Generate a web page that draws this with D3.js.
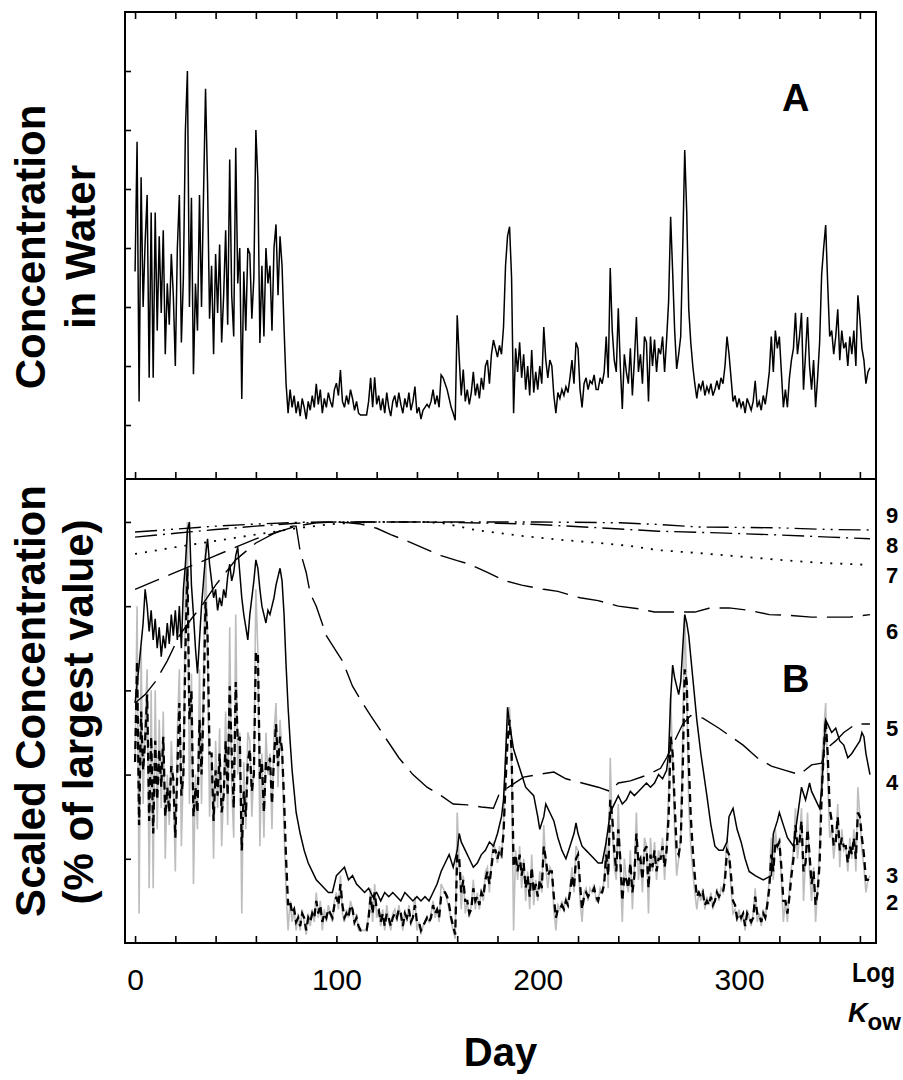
<!DOCTYPE html>
<html>
<head>
<meta charset="utf-8">
<script src="https://cdn.jsdelivr.net/npm/d3@7"></script>
<style>
  body { margin: 0; background: #fff; }
  text { font-family: "Liberation Sans", Arial, sans-serif; }
</style>
</head>
<body>
<div id="chart"></div>
<script>
// Panel A: water concentration, one value per day (arbitrary units, tick spacing = 1)
const water = [
  2.6, 4.8, 0.4, 4.2, 2.0, 3.1, 3.9, 0.8, 3.6, 0.8,
  3.6, 1.6, 3.2, 1.9, 3.3, 1.2, 2.4, 1.7, 2.9, 2.2,
  1.0, 3.0, 3.9, 1.4, 2.5, 5.0, 6.0, 2.0, 3.85, 0.86,
  2.4, 1.6, 3.9, 2.0, 3.9, 5.7, 4.1, 1.8, 2.7, 1.2,
  2.9, 1.9, 3.06, 1.4, 2.2, 3.3, 1.7, 4.5, 2.2, 1.5,
  4.7, 2.4, 3.0, 0.44, 2.6, 1.6, 3.0, 2.9, 1.8, 2.5,
  5.0, 4.15, 1.39, 2.7, 1.5, 3.0, 2.4, 2.7, 1.6, 3.0,
  3.4, 2.2, 3.2, 2.7, 1.64, 0.7, 0.2, 0.6, 0.3, 0.5,
  0.2, 0.4, 0.15, 0.45, 0.3, 0.1, 0.4, 0.25, 0.5, 0.3,
  0.7, 0.35, 0.6, 0.2, 0.45, 0.3, 0.55, 0.4, 0.3, 0.6,
  0.71, 0.5, 0.93, 0.4, 0.3, 0.5, 0.35, 0.6, 0.45, 0.25,
  0.4, 0.2, 0.17, 0.17, 0.17, 0.17, 0.4, 0.8, 0.3, 0.81,
  0.35, 0.5, 0.25, 0.45, 0.2, 0.55, 0.3, 0.15, 0.4, 0.5,
  0.3, 0.55, 0.35, 0.2, 0.45, 0.3, 0.55, 0.25, 0.4, 0.65,
  0.2, 0.3, 0.1, 0.25, 0.3, 0.35, 0.3, 0.4, 0.6, 0.35,
  0.5, 0.3, 0.85, 0.8, 0.7, 0.6, 0.45, 0.3, 0.2, 0.08,
  1.86, 1.13, 0.5, 0.94, 0.4, 0.6, 0.35, 0.55, 0.9, 0.5,
  0.7, 0.45, 0.8, 0.6, 1.0, 1.1, 0.7, 1.2, 1.44, 1.3,
  1.15, 1.35, 1.2, 1.66, 2.7, 3.2, 3.36, 2.5, 0.2, 1.3,
  0.9, 1.4, 0.8, 1.2, 0.6, 1.0, 0.5, 1.27, 0.55, 0.9,
  0.6, 1.0, 0.7, 1.66, 1.1, 0.8, 1.1, 1.0, 0.5, 0.2,
  0.55, 0.45, 0.6, 0.5, 0.65, 0.55, 0.8, 1.1, 0.7, 1.4,
  1.3, 0.6, 0.3, 0.7, 0.8, 0.6, 0.75, 0.7, 0.85, 0.6,
  0.6, 0.8, 0.7, 0.9, 1.5, 0.8, 2.66, 1.6, 1.1, 0.9,
  1.98, 1.0, 0.27, 1.2, 0.9, 0.7, 1.3, 0.5, 1.1, 1.83,
  0.9, 1.2, 0.7, 1.5, 1.4, 0.4, 1.5, 1.0, 1.45, 0.9,
  1.3, 1.2, 1.5, 0.9, 1.45, 2.1, 3.53, 2.6, 1.6, 0.95,
  1.2, 1.5, 3.0, 4.66, 3.6, 1.96, 1.4, 1.0, 0.7, 0.45,
  0.7, 0.6, 0.75, 0.5, 0.65, 0.55, 0.7, 0.5, 0.6, 0.75,
  0.6, 0.8, 0.7, 1.0, 1.5, 1.2, 0.8, 0.4, 0.5, 0.3,
  0.45, 0.3, 0.4, 0.2, 0.45, 0.35, 0.25, 0.4, 0.75, 0.3,
  0.4, 0.25, 0.5, 0.35, 0.6, 0.9, 1.5, 0.9, 1.6, 1.3,
  1.5, 0.9, 0.3, 0.6, 0.3, 0.8, 1.1, 1.3, 1.9, 1.2,
  1.5, 1.9, 0.6, 1.2, 1.83, 1.0, 0.6, 1.1, 0.3, 0.8,
  1.4, 2.55, 3.0, 3.39, 2.4, 1.5, 1.6, 1.2, 1.5, 1.96,
  1.1, 1.6, 1.3, 1.4, 1.0, 1.5, 1.2, 1.6, 1.0, 2.2,
  1.8, 1.3, 1.1, 0.7, 0.9, 0.97
];

// Panel B: scaled concentration (% of largest value) per log Kow
const kow2 = [
  43,80,7,70,33,52,65,13,60,13, 60,27,53,32,55,20,40,28,48,37,
  17,50,65,23,42,84,100,33,64,14, 40,27,65,33,65,95,68,30,45,20,
  48,32,51,23,37,55,28,75,37,25, 78,40,50,7,43,27,50,48,30,42,
  84,69,23,45,25,50,40,45,27,50, 57,37,53,45,27,12,3,10,5,8,
  3,7,3,8,5,2,7,4,8,5, 12,6,10,3,8,5,9,7,5,10,
  12,8,16,7,5,8,6,10,8,4, 7,3,3,3,3,3,7,13,5,14,
  6,8,4,8,3,9,5,3,7,8, 5,9,6,3,8,5,9,4,7,11,
  3,5,2,4,5,6,5,7,10,6, 8,5,14,13,12,10,8,5,3,1,
  31,19,8,16,7,10,6,9,15,8, 12,8,13,10,17,18,12,20,24,22,
  19,23,20,28,45,53,56,42,3,22, 15,23,13,20,10,17,8,21,9,15,
  10,17,12,28,18,13,18,17,8,3, 9,8,10,8,11,9,13,18,12,23,
  22,10,5,12,13,10,13,12,14,10, 10,13,12,15,25,13,44,27,18,15,
  33,17,5,20,15,12,22,8,18,31, 15,20,12,25,23,7,25,17,24,15,
  22,20,25,15,24,35,59,43,27,16, 20,25,50,78,60,33,23,17,12,8,
  12,10,13,8,11,9,12,8,10,13, 10,13,12,17,25,20,13,7,8,5,
  8,5,7,3,8,6,4,7,13,5, 7,4,8,6,10,15,25,15,27,22,
  25,15,5,10,5,13,18,22,32,20, 25,32,10,20,31,17,10,18,5,13,
  23,43,50,57,40,25,27,20,25,33, 18,27,22,23,17,25,20,27,17,37,
  30,22,18,12,15,16
];

const kow3 = [
  43,67,28,55,41,48,59,29,49,26, 48,34,46,37,49,30,37,31,42,39,
  25,41,57,35,40,69,89,53,60,30, 37,31,53,40,56,81,73,45,45,29,
  41,35,45,31,35,48,35,61,45,32, 62,48,49,22,36,30,43,46,36,40,
  69,69,39,43,31,43,41,44,33,44, 52,42,49,46,34,20,9,10,7,8,
  5,6,4,7,6,3,6,5,7,6, 10,7,9,5,7,6,8,7,6,9,
  11,9,14,9,6,7,6,9,8,5, 6,4,3,3,3,3,6,11,7,12,
  8,8,5,7,4,7,6,4,6,7, 6,8,7,4,7,6,8,5,6,9,
  5,5,3,4,5,6,5,6,9,7, 8,6,11,12,12,11,9,6,4,2,
  21,20,12,15,10,10,7,8,13,10, 11,9,12,11,15,17,14,18,22,22,
  20,22,21,26,38,48,53,46,18,21, 17,21,16,19,13,16,11,18,12,14,
  11,15,13,23,20,16,17,17,11,6, 8,8,9,8,10,9,12,16,13,20,
  21,14,8,11,12,11,12,12,13,11, 10,12,12,14,21,16,34,30,22,17,
  27,20,10,16,15,13,19,12,16,26, 19,20,15,22,23,13,21,18,22,17,
  20,20,23,18,22,30,49,45,33,22, 21,24,41,65,62,43,30,22,16,11,
  12,11,12,9,10,9,11,9,10,12, 11,12,12,15,22,21,16,10,9,6,
  7,6,7,4,7,6,5,6,11,7, 7,5,7,6,9,13,21,17,24,23,
  24,18,10,10,7,11,16,20,28,23, 24,29,17,19,27,21,14,17,9,12,
  19,35,45,53,45,32,29,23,24,30, 22,25,23,23,19,23,21,25,20,31,
  30,25,21,15,15,16
];

const kow4Day = [0,2,4,5,6,7,8,9,10,11,12,13,14,15,16,17,18,19,20,21,22,23,24,25,26,27,28,29,30,31,32,33,34,35,36,37,38,39,40,41,42,43,44,45,46,47,48,49,50,51,52,53,54,55,56,57,58,59,60,61,62,63,64,65,66,67,68,69,70,71,72,73,74,75,76,77,78,79,80,82,84,86,88,90,92,94,96,98,100,102,104,106,108,110,112,114,116,118,120,122,124,126,128,130,132,134,136,138,140,142,144,146,148,150,152,154,156,158,160,161,162,164,166,168,170,172,174,176,178,180,182,183,184,185,186,188,190,192,194,196,198,200,201,203,204,206,208,210,212,214,216,218,219,220,222,224,226,228,230,232,234,236,238,240,242,244,246,248,250,252,254,256,258,260,262,264,265,266,267,268,270,271,272,273,274,275,277,279,281,284,286,288,290,292,294,295,297,299,301,303,305,308,312,316,317,319,320,322,324,327,329,331,333,335,336,338,340,341,342,343,344,346,348,350,352,354,356,358,360,361,362,363,365];
const kow4 = [57,66,76,84,80,74,79,72,77,70,75,68,73,70,76,71,78,73,79,72,80,70,84,90,98,100,85,78,70,64,72,80,86,92,96,90,86,82,84,79,82,80,84,82,87,90,86,88,92,94,88,82,78,75,72,78,82,86,91,89,84,80,78,76,79,78,80,82,85,87,89,86,78,66,56,48,41,36,31,26,22,19,17,15,14,13,12,12,16,17,18,15,16,14,13,12,13,11,12,10,12,11,12,11,10,12,11,10,11,10,11,10,12,14,17,19,21,18,22,26,24,22,20,18,19,21,22,24,23,26,30,34,44,56,52,46,43,40,37,36,35,30,27,30,33,31,29,25,22,20,23,26,28.5,26,23,22,21,20,19,19,24,31,33,35,33,34,36,35,36,37,38,37,38,40,39,41,45,58,66,63,59,62,70,78,76,73,63,53,45,35,28,23,22,22,24,30,32,27,24,20,17,16,15,16,26,29,31,28,25,23,30,37,34,38,36,34,32,36,45,53,52,50,51,48,47,44,45,46.5,48,50,49,45,40];

const kow5Day = [0,5,10,16,22,28,33,40,50,60,70,78,80,82,85,87,90,95,99,103,108,113,117,124,131,138,145,152,158,165,172,178,181,187,193,200,208,214,222,230,236,240,246,255,261,264,268,272,276,282,290,296,302,309,316,323,330,336,341,343,348,352,358,365];
const kow5 = [57,59,62,67,73,77,80,85,91,95,97.5,99,99,93,88,83,80,73,70,67,61,57,54,49,44,40,37,35,33,32.8,32.3,32,35.6,37.5,39.4,40,40.6,39,38,37,36,38,38.5,40,41.5,44,48,52,54,53.4,51,49,47,44,42,41,40,42.3,42.7,46,48,50,52,52];

const kow6Day = [0,10,20,30,40,50,60,70,80,90,100,106,112,120,127,135,147,152,160,166,175,184,192,203,210,221,230,240,250,258,270,278,285,295,305,315,325,336,345,355,365];
const kow6 = [84,86,88,90,92,94,96,97.5,99,99.8,100,99.8,99.5,98.5,97,95.5,93,92,90.8,90,88,86,85,84,83.5,82,81.3,80,79.4,78.6,78.6,78.6,79.5,79.6,79,78,77.8,77.4,77.4,77.4,78];

const kow7Day = [0,20,40,60,80,100,120,140,152,170,190,210,231,246,260,280,300,320,340,365];
const kow7 = [92.4,94,95.5,97,98.5,99.6,100,100,99.8,98,96.8,95.8,95,94.3,93.3,92.6,91.8,91,90.3,89.8];

const kow8Day = [0,20,40,60,80,100,140,180,200,231,260,290,320,345,365];
const kow8 = [96.4,97.3,98.2,99,99.7,100,100,99.7,99.4,98.6,97.8,97.4,96.9,96.4,96];

const kow9Day = [0,20,40,60,80,100,160,200,241,260,280,320,345,365];
const kow9 = [97.6,98.3,99,99.5,99.9,100,100,100,99.8,99.4,98.8,98.6,98.2,98.1];

// right-hand labels (log Kow) and where they sit on the % scale
const kowLabels = ["9","8","7","6","5","4","3","2"];
const kowLabelPct = [101.5, 94.4, 87.3, 74.0, 50.9, 38.1, 16.0, 9.6];

const xTickLabels = [0, 100, 200, 300];

const width = 903, height = 1080;
const left = 125, right = 876, topA = 12, midY = 479, bottomB = 943;

const svg = d3.select("#chart").append("svg")
  .attr("width", width).attr("height", height);

const x = d3.scaleLinear().domain([-5, 368]).range([left, right]);
const yA = d3.scaleLinear().domain([-0.915, 7.0]).range([midY, topA]);
const yB = d3.scaleLinear().domain([0, 110.2]).range([bottomB, midY]);

// axes / ticks
svg.append("g").attr("transform", `translate(0,${topA})`)
  .call(d3.axisTop(x).tickValues(d3.range(0, 361, 20)).tickSize(-7).tickFormat(""));
svg.append("g").attr("transform", `translate(0,${midY})`)
  .call(d3.axisBottom(x).tickValues(d3.range(0, 361, 20)).tickSize(-7).tickFormat(""));
svg.append("g").attr("transform", `translate(0,${bottomB})`)
  .call(d3.axisBottom(x).tickValues(d3.range(0, 361, 20)).tickSize(-7).tickFormat(""));
svg.append("g").attr("transform", `translate(${left},0)`)
  .call(d3.axisLeft(yA).tickValues(d3.range(0, 7)).tickSize(-6).tickFormat(""));
svg.append("g").attr("transform", `translate(${left},0)`)
  .call(d3.axisLeft(yB).tickValues([20, 40, 60, 80, 100]).tickSize(-6).tickFormat(""));

svg.selectAll(".domain").remove();
svg.selectAll(".tick line").attr("stroke", "#000").attr("stroke-width", 1.6);

const xl = svg.append("g").attr("transform", `translate(0,${bottomB})`)
  .call(d3.axisBottom(x).tickValues(xTickLabels).tickSize(0).tickPadding(26));
xl.select(".domain").remove();
xl.selectAll("text").attr("font-size", 30).attr("fill", "#000")
  .attr("font-family", "Liberation Sans, Arial, sans-serif");

const rl = svg.append("g").attr("transform", `translate(${right},0)`)
  .call(d3.axisRight(yB).tickValues(kowLabelPct).tickSize(0).tickPadding(10)
    .tickFormat((d, i) => kowLabels[i]));
rl.select(".domain").remove();
rl.selectAll("text").attr("font-size", 22).attr("font-weight", "bold").attr("fill", "#000")
  .attr("font-family", "Liberation Serif, Times New Roman, serif");

// panel A line
const lineA = d3.line().x((d, i) => x(i)).y(d => yA(d));
svg.append("path").datum(water)
  .attr("fill", "none").attr("stroke", "#000").attr("stroke-width", 1.5)
  .attr("d", lineA);

// panel B lines
const lineDaily = d3.line().x((d, i) => x(i)).y(d => yB(d));
const linePairs = d3.line().x(d => x(d[0])).y(d => yB(d[1]));
const pairs = (ds, vs) => ds.map((d, i) => [d, vs[i]]);

svg.append("path").datum(kow2)
  .attr("fill", "none").attr("stroke", "#bdbdbd").attr("stroke-width", 1.6)
  .attr("d", lineDaily);
svg.append("path").datum(kow3)
  .attr("fill", "none").attr("stroke", "#000").attr("stroke-width", 2.3)
  .attr("stroke-dasharray", "8,5").attr("d", lineDaily);

const smooth = [
  {ds: kow9Day, vs: kow9, dash: "22,6,2,6,2,6", w: 1.4},
  {ds: kow8Day, vs: kow8, dash: "22,6,2,6", w: 1.4},
  {ds: kow7Day, vs: kow7, dash: "2,8", w: 1.8},
  {ds: kow6Day, vs: kow6, dash: "26,10", w: 1.4},
  {ds: kow5Day, vs: kow5, dash: "30,10", w: 1.4},
  {ds: kow4Day, vs: kow4, dash: null, w: 1.5}
];
smooth.forEach(s => {
  svg.append("path").datum(pairs(s.ds, s.vs))
    .attr("fill", "none").attr("stroke", "#000").attr("stroke-width", s.w)
    .attr("stroke-dasharray", s.dash)
    .attr("d", linePairs);
});

// frame
svg.append("rect").attr("x", left).attr("y", topA)
  .attr("width", right - left).attr("height", bottomB - topA)
  .attr("fill", "none").attr("stroke", "#000").attr("stroke-width", 2);
svg.append("line").attr("x1", left).attr("x2", right).attr("y1", midY).attr("y2", midY)
  .attr("stroke", "#000").attr("stroke-width", 2);

// panel letters
svg.append("text").attr("x", 782).attr("y", 111).text("A")
  .attr("font-size", 38).attr("font-weight", "bold");
svg.append("text").attr("x", 782).attr("y", 692).text("B")
  .attr("font-size", 38).attr("font-weight", "bold");

// axis titles
const yTitle = (txt, cx, cy) => svg.append("text")
  .attr("transform", `translate(${cx},${cy}) rotate(-90)`)
  .attr("text-anchor", "middle").attr("font-size", 42).attr("font-weight", "bold")
  .text(txt);
yTitle("Concentration", 45, 247);
yTitle("in Water", 95, 247);
yTitle("Scaled Concentration", 45, 701);
yTitle("(% of largest value)", 93, 712);

svg.append("text").attr("x", (left + right) / 2).attr("y", 1066)
  .attr("text-anchor", "middle").attr("font-size", 40).attr("font-weight", "bold")
  .text("Day");

svg.append("text").attr("x", 852).attr("y", 982)
  .attr("font-size", 27).attr("font-weight", "bold")
  .attr("textLength", 43).attr("lengthAdjust", "spacingAndGlyphs")
  .text("Log");
const kow = svg.append("text").attr("x", 848).attr("y", 1022)
  .attr("font-size", 27).attr("font-weight", "bold");
kow.append("tspan").attr("font-style", "italic").text("K");
kow.append("tspan").attr("dy", 8).attr("font-size", 24).text("ow");
</script>
</body>
</html>
